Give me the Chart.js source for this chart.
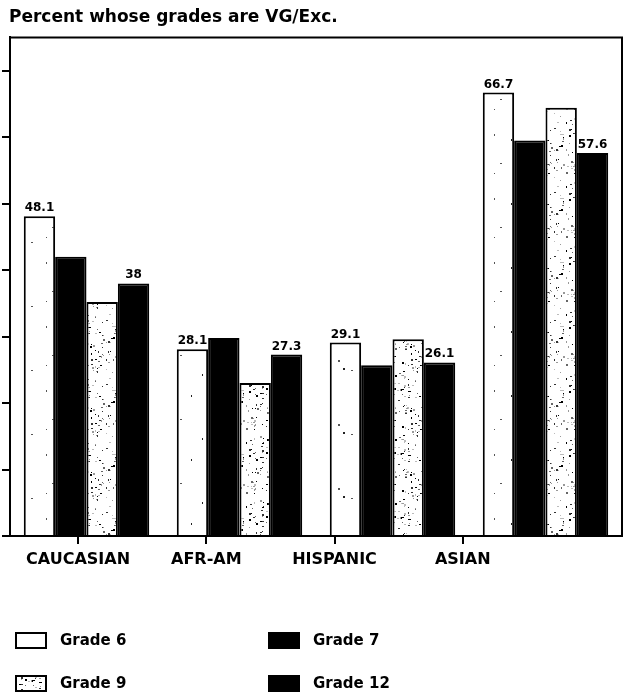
<!DOCTYPE html>
<html>
<head>
<meta charset="utf-8">
<script src="https://cdn.jsdelivr.net/npm/chart.js@4/dist/chart.umd.min.js"></script>
<style>
  html, body { margin: 0; padding: 0; background: #fff; }
  #wrap { position: relative; width: 625px; height: 692px; }
  #legend {
    position: absolute; left: 15px; top: 630px;
    display: grid; grid-template-columns: 253px 220px; row-gap: 23px;
    font: bold 15px "DejaVu Sans", sans-serif; color: #000;
  }
  .item { display: flex; align-items: center; height: 20px; }
  .item canvas { margin-right: 13px; }
</style>
</head>
<body>
<div id="wrap">
  <canvas id="c" width="625" height="692"></canvas>
  <div id="legend"></div>
</div>
<script>
// Percent of students whose grades are Very Good / Excellent, by group and grade
const categories = ['CAUCASIAN', 'AFR-AM', 'HISPANIC', 'ASIAN'];
const grade6  = [48.1, 28.1, 29.1, 66.7];
const grade7  = [42.0, 29.8, 25.7, 59.5];
const grade9  = [35.2, 23.0, 29.6, 64.4];
const grade12 = [38, 27.3, 26.1, 57.6];
const seriesNames = ['Grade 6', 'Grade 7', 'Grade 9', 'Grade 12'];
const labeledSeries = ['Grade 6', 'Grade 12'];
const yTickValues = [0, 10, 20, 30, 40, 50, 60, 70];

const FONT = '"DejaVu Sans", sans-serif';

// Speckled fills for the light bars (deterministic dot layout)
function stipple(size, count, seed, shades) {
  const c = document.createElement('canvas');
  c.width = c.height = size;
  const g = c.getContext('2d');
  g.fillStyle = '#fff';
  g.fillRect(0, 0, size, size);
  let s = seed >>> 0;
  const next = () => { s = (Math.imul(s, 1103515245) + 12345) >>> 0; return s / 4294967296; };
  for (let i = 0; i < count; i++) {
    const x = Math.floor(next() * size), y = Math.floor(next() * size);
    g.fillStyle = shades[Math.floor(next() * shades.length)];
    g.fillRect(x, y, next() < 0.5 ? 1 : 2, next() < 0.7 ? 1 : 2);
  }
  return c;
}

const canvas = document.getElementById('c');
const ctx = canvas.getContext('2d');
const tileLight = stipple(64, 8, 17, ['#222', '#555']);
const tileSpeckled = stipple(64, 150, 91, ['#000', '#333', '#666', '#999', '#bbb']);
const fills = {
  'Grade 6': ctx.createPattern(tileLight, 'repeat'),
  'Grade 7': '#000',
  'Grade 9': ctx.createPattern(tileSpeckled, 'repeat'),
  'Grade 12': '#000'
};
const tiles = { 'Grade 6': tileLight, 'Grade 9': tileSpeckled };
const seriesData = [grade6, grade7, grade9, grade12];

// Numbers above the Grade 6 and Grade 12 bars
const valueLabels = {
  id: 'valueLabels',
  afterDatasetsDraw(chart) {
    const c = chart.ctx;
    c.save();
    c.font = 'bold 12px ' + FONT;
    c.fillStyle = '#000';
    c.textAlign = 'center';
    c.textBaseline = 'alphabetic';
    chart.data.datasets.forEach((ds, i) => {
      if (!labeledSeries.includes(ds.label)) return;
      chart.getDatasetMeta(i).data.forEach((bar, j) => {
        c.fillText(String(ds.data[j]), bar.x, bar.y - 5);
      });
    });
    c.restore();
  }
};

// Top and right edges of the plot frame
const frame = {
  id: 'frame',
  afterDraw(chart) {
    const { top, right, left, bottom } = chart.chartArea;
    const c = chart.ctx;
    c.save();
    c.strokeStyle = '#000';
    c.lineWidth = 2;
    c.beginPath();
    c.moveTo(left, top);
    c.lineTo(right, top);
    c.lineTo(right, bottom);
    c.stroke();
    c.restore();
  }
};

new Chart(ctx, {
  type: 'bar',
  data: {
    labels: categories,
    datasets: seriesNames.map((name, i) => ({
      label: name,
      data: seriesData[i],
      backgroundColor: fills[name],
      borderColor: '#000',
      borderWidth: 2,
      borderSkipped: 'bottom',
      categoryPercentage: 0.82,
      barPercentage: 1.0
    }))
  },
  options: {
    responsive: false,
    animation: false,
    layout: { padding: { left: 9, right: 3, top: 0, bottom: 0 } },
    plugins: {
      legend: { display: false },
      tooltip: { enabled: false },
      title: {
        display: true,
        text: 'Percent whose grades are VG/Exc.',
        align: 'start',
        color: '#000',
        font: { family: FONT, size: 17, weight: 'bold' },
        padding: { top: 7, bottom: 10 }
      }
    },
    scales: {
      x: {
        type: 'category',
        display: false
      },
      xLabels: {
        type: 'linear',
        position: 'bottom',
        offset: false,
        min: -0.531,
        max: 4.242,
        afterBuildTicks(scale) {
          scale.ticks = categories.map((_, i) => ({ value: i }));
        },
        afterFit(scale) { scale.height = 156; },
        border: { display: true, color: '#000', width: 2 },
        grid: { display: true, offset: false, drawOnChartArea: false, drawTicks: true, tickLength: 8, color: '#000', lineWidth: 2 },
        ticks: {
          autoSkip: false,
          maxRotation: 0,
          padding: 6,
          color: '#000',
          font: { family: FONT, size: 16, weight: 'bold' },
          callback: (v) => categories[v]
        }
      },
      y: {
        min: 0,
        max: 75,
        afterBuildTicks(scale) {
          scale.ticks = yTickValues.map(v => ({ value: v }));
        },
        afterFit(scale) { scale.width = 1; },
        border: { display: true, color: '#000', width: 2 },
        grid: { display: true, drawOnChartArea: false, drawTicks: true, tickLength: 8, color: '#000', lineWidth: 2 },
        ticks: { display: true, callback: () => '' }
      }
    }
  },
  plugins: [valueLabels, frame]
});

// Legend: swatch plus label, two columns
const legend = document.getElementById('legend');
seriesNames.forEach(name => {
  const item = document.createElement('div');
  item.className = 'item';
  const sw = document.createElement('canvas');
  sw.width = 32; sw.height = 17;
  const g = sw.getContext('2d');
  if (tiles[name]) {
    g.fillStyle = g.createPattern(tiles[name], 'repeat');
  } else {
    g.fillStyle = fills[name];
  }
  g.fillRect(0, 0, 32, 17);
  g.strokeStyle = '#000';
  g.lineWidth = 2;
  g.strokeRect(1, 1, 30, 15);
  const txt = document.createElement('span');
  txt.textContent = name;
  item.appendChild(sw);
  item.appendChild(txt);
  legend.appendChild(item);
});
</script>
</body>
</html>
